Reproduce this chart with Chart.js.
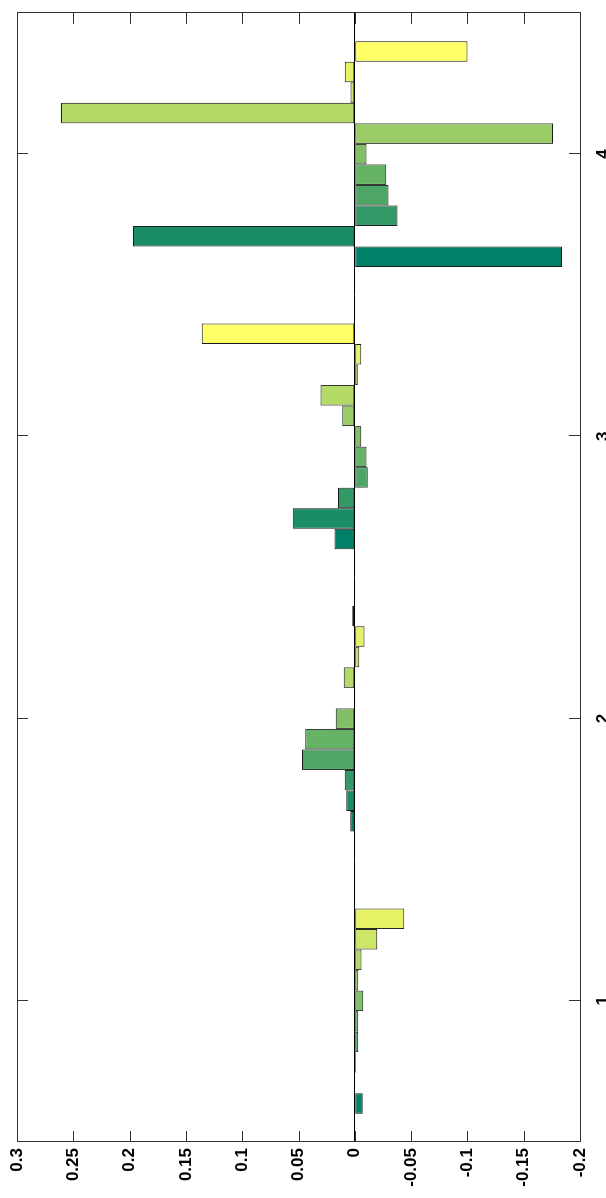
<!DOCTYPE html>
<html lang="en">
<head>
    <meta charset="UTF-8">
    <title>Grouped Bars</title>
    <script src="https://cdn.jsdelivr.net/npm/chart.js"></script>
    <style>
        html, body {
            margin: 0;
            padding: 0;
            background: #fff;
            overflow: hidden;
        }
        /* the chart is drawn upright and then turned a quarter to the left */
        #wrap {
            position: absolute;
            left: -296px;
            top: 296px;
            width: 1198px;
            height: 606px;
            transform: rotate(-90deg);
        }
    </style>
</head>
<body>
    <div id="wrap">
        <canvas id="barChart" width="1198" height="606"></canvas>
    </div>

    <script>
        const categories = ['1', '2', '3', '4'];

        // one value per series (11 series) for each category
        const cat1Values = [-0.007, 0, -0.001, -0.003, -0.003, -0.0075, -0.003, -0.006, -0.02, -0.044, 0];
        const cat2Values = [0.004, 0.0077, 0.009, 0.047, 0.044, 0.017, 0, 0.0098, -0.004, -0.0086, 0.0023];
        const cat3Values = [0.018, 0.055, 0.015, -0.0116, -0.0104, -0.0057, 0.0112, 0.0305, -0.0027, -0.0057, 0.136];
        const cat4Values = [-0.184, 0.197, -0.038, -0.030, -0.028, -0.0104, -0.176, 0.261, 0.0038, 0.0089, -0.1];

        const valueTicks = [-0.2, -0.15, -0.1, -0.05, 0, 0.05, 0.1, 0.15, 0.2, 0.25, 0.3];
        const valueTickLabels = ['-0.2', '-0.15', '-0.1', '-0.05', '0', '0.05', '0.1', '0.15', '0.2', '0.25', '0.3'];

        // summer colormap, 11 steps
        const seriesColors = ['#008066', '#1a8c66', '#339966', '#4da666', '#66b366',
                              '#80bf66', '#99cc66', '#b3d966', '#cce666', '#e6f266', '#ffff66'];

        const byCategory = [cat1Values, cat2Values, cat3Values, cat4Values];
        const datasets = seriesColors.map((color, i) => ({
            data: byCategory.map(vals => vals[i]),
            backgroundColor: color,
            borderColor: '#1a1a1a',
            borderWidth: 1,
            borderSkipped: false,
            categoryPercentage: 0.8,
            barPercentage: 1.0
        }));

        const tickFont = { family: 'Liberation Sans', size: 17, weight: 'bold' };

        // box round the plot with short ticks pointing inwards on all four sides
        const boxTicks = {
            id: 'boxTicks',
            afterDraw(chart) {
                const ctx = chart.ctx;
                const a = chart.chartArea;
                const xs = chart.scales.x;
                const ys = chart.scales.y;
                const len = 11;
                ctx.save();
                ctx.strokeStyle = '#333';
                ctx.lineWidth = 1;
                ctx.beginPath();
                xs.ticks.forEach((t, i) => {
                    const px = Math.round(xs.getPixelForTick(i)) + 0.5;
                    ctx.moveTo(px, a.bottom); ctx.lineTo(px, a.bottom - len);
                    ctx.moveTo(px, a.top); ctx.lineTo(px, a.top + len);
                });
                ys.ticks.forEach((t, i) => {
                    const py = Math.round(ys.getPixelForTick(i)) + 0.5;
                    ctx.moveTo(a.left, py); ctx.lineTo(a.left + len, py);
                    ctx.moveTo(a.right, py); ctx.lineTo(a.right - len, py);
                });
                ctx.stroke();
                ctx.strokeRect(Math.round(a.left) + 0.5, Math.round(a.top) + 0.5,
                               Math.round(a.right - a.left), Math.round(a.bottom - a.top));
                ctx.restore();
            }
        };

        new Chart(document.getElementById('barChart').getContext('2d'), {
            type: 'bar',
            data: { labels: categories, datasets: datasets },
            options: {
                responsive: false,
                animation: false,
                layout: { padding: { top: 17, right: 13, left: 0, bottom: 0 } },
                plugins: { legend: { display: false }, tooltip: { enabled: false } },
                scales: {
                    x: {
                        offset: true,
                        grid: { display: false },
                        border: { display: false },
                        ticks: {
                            color: '#000',
                            padding: 5,
                            font: tickFont
                        },
                        afterFit(scale) { scale.height = 26; }
                    },
                    y: {
                        min: -0.2,
                        max: 0.3,
                        border: { display: false },
                        grid: {
                            drawTicks: false,
                            color: c => c.tick && c.tick.value === 0 ? '#000' : 'rgba(0,0,0,0)',
                            lineWidth: 1
                        },
                        afterBuildTicks(scale) {
                            scale.ticks = valueTicks.map(v => ({ value: v }));
                        },
                        ticks: {
                            color: '#000',
                            padding: 6,
                            font: tickFont,
                            callback: (value, index) => valueTickLabels[index]
                        },
                        afterFit(scale) { scale.width = 56; }
                    }
                }
            },
            plugins: [boxTicks]
        });
    </script>
</body>
</html>
